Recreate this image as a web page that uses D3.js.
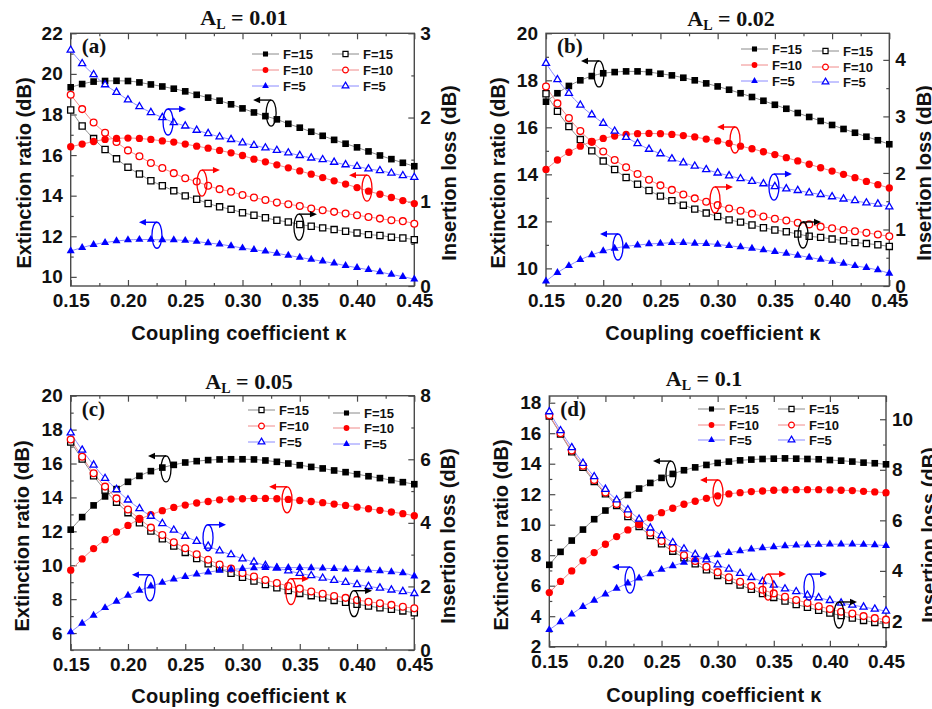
<!DOCTYPE html>
<html>
<head>
<meta charset="utf-8">
<script src="https://cdn.jsdelivr.net/npm/d3@7"></script>
<style>
  body { margin: 0; background: #fff; }
  svg { display: block; }
</style>
</head>
<body>
<div id="vis"></div>
<script>
// svg properties
var svgWidth = 932;
var svgHeight = 709;
var sansFont = '"Liberation Sans", Arial, sans-serif';
var serifFont = '"Liberation Serif", "Times New Roman", serif';

// shared x values (coupling coefficient)
var kappa = [0.15, 0.16, 0.17, 0.18, 0.19, 0.20, 0.21, 0.22, 0.23, 0.24, 0.25,
             0.26, 0.27, 0.28, 0.29, 0.30, 0.31, 0.32, 0.33, 0.34, 0.35, 0.36,
             0.37, 0.38, 0.39, 0.40, 0.41, 0.42, 0.43, 0.44, 0.45];
var xTicks = [0.15, 0.20, 0.25, 0.30, 0.35, 0.40, 0.45];
var xMinor = [0.175, 0.225, 0.275, 0.325, 0.375, 0.425];
var fLabels = ['F=15', 'F=10', 'F=5'];

// (a) A_L = 0.01 : extinction ratio (left axis) and insertion loss (right axis)
var erA15 = [19.34,19.50,19.62,19.65,19.66,19.65,19.58,19.48,19.38,19.27,19.14,18.97,18.83,18.68,18.50,18.30,18.10,17.92,17.76,17.54,17.35,17.15,16.95,16.75,16.56,16.38,16.18,15.98,15.80,15.62,15.45];
var erA10 = [16.41,16.54,16.67,16.77,16.82,16.84,16.82,16.77,16.70,16.64,16.54,16.44,16.34,16.23,16.11,15.98,15.80,15.67,15.52,15.37,15.22,15.06,14.89,14.73,14.57,14.40,14.22,14.07,13.91,13.76,13.61];
var erA5  = [11.28,11.44,11.59,11.69,11.77,11.82,11.84,11.84,11.82,11.82,11.79,11.74,11.67,11.61,11.52,11.42,11.34,11.26,11.16,11.06,10.96,10.86,10.77,10.67,10.55,10.45,10.35,10.24,10.12,10.01,9.89];
var ilA15 = [2.09,1.90,1.75,1.62,1.51,1.41,1.33,1.25,1.19,1.13,1.07,1.03,0.98,0.94,0.91,0.87,0.84,0.81,0.78,0.76,0.73,0.71,0.69,0.67,0.65,0.63,0.61,0.60,0.58,0.57,0.55];
var ilA10 = [2.27,2.10,1.94,1.82,1.71,1.61,1.54,1.46,1.40,1.34,1.28,1.24,1.19,1.15,1.12,1.08,1.05,1.02,0.99,0.97,0.95,0.92,0.90,0.88,0.86,0.84,0.82,0.80,0.78,0.77,0.74];
var ilA5  = [2.80,2.64,2.51,2.39,2.30,2.21,2.13,2.06,2.00,1.94,1.90,1.85,1.81,1.77,1.74,1.70,1.67,1.64,1.61,1.58,1.55,1.52,1.50,1.47,1.44,1.42,1.39,1.37,1.34,1.31,1.29];

// (b) A_L = 0.02
var erB15 = [17.09,17.45,17.76,18.00,18.18,18.30,18.35,18.38,18.38,18.35,18.28,18.21,18.11,18.00,17.87,17.74,17.60,17.45,17.29,17.13,16.96,16.79,16.61,16.44,16.27,16.10,15.93,15.77,15.60,15.45,15.28];
var erB10 = [14.21,14.61,14.94,15.20,15.39,15.53,15.63,15.70,15.73,15.74,15.73,15.70,15.65,15.59,15.50,15.42,15.32,15.20,15.09,14.96,14.84,14.71,14.57,14.43,14.28,14.14,14.00,13.86,13.70,13.56,13.42];
var erB5  = [9.46,9.82,10.11,10.37,10.57,10.74,10.85,10.94,10.99,11.04,11.06,11.09,11.09,11.06,11.05,11.02,10.96,10.91,10.85,10.78,10.71,10.64,10.55,10.47,10.38,10.30,10.21,10.11,10.03,9.93,9.79];
var ilB15 = [3.40,3.09,2.82,2.59,2.39,2.21,2.06,1.92,1.80,1.69,1.59,1.51,1.43,1.36,1.29,1.23,1.17,1.13,1.08,1.03,0.99,0.96,0.92,0.88,0.86,0.83,0.80,0.77,0.75,0.73,0.70];
var ilB10 = [3.53,3.23,2.97,2.74,2.55,2.38,2.23,2.10,1.98,1.88,1.78,1.70,1.62,1.55,1.49,1.43,1.37,1.33,1.28,1.23,1.19,1.16,1.12,1.09,1.05,1.02,0.99,0.97,0.94,0.91,0.88];
var ilB5  = [3.94,3.65,3.41,3.20,3.03,2.88,2.74,2.63,2.52,2.42,2.34,2.25,2.18,2.12,2.06,2.00,1.95,1.90,1.85,1.81,1.76,1.72,1.69,1.65,1.62,1.58,1.54,1.51,1.47,1.45,1.40];

// (c) A_L = 0.05
var erC15 = [12.10,12.84,13.53,14.06,14.49,14.92,15.27,15.55,15.76,15.92,16.06,16.14,16.20,16.24,16.25,16.25,16.24,16.18,16.10,16.00,15.90,15.80,15.71,15.59,15.49,15.37,15.25,15.14,15.02,14.90,14.78];
var erC10 = [9.71,10.37,10.98,11.51,11.96,12.35,12.71,12.98,13.22,13.41,13.55,13.67,13.76,13.86,13.90,13.92,13.94,13.94,13.92,13.88,13.82,13.76,13.69,13.61,13.53,13.43,13.33,13.24,13.14,13.04,12.92];
var erC5  = [6.06,6.57,7.04,7.49,7.86,8.22,8.51,8.76,8.98,9.18,9.33,9.47,9.59,9.69,9.75,9.80,9.84,9.86,9.86,9.86,9.86,9.84,9.82,9.80,9.76,9.75,9.71,9.67,9.61,9.55,9.35];
var ilC15 = [6.54,6.01,5.48,5.03,4.65,4.32,4.00,3.74,3.50,3.27,3.07,2.88,2.71,2.56,2.41,2.29,2.17,2.06,1.96,1.87,1.78,1.71,1.64,1.56,1.50,1.44,1.38,1.33,1.28,1.23,1.17];
var ilC10 = [6.62,6.08,5.56,5.14,4.77,4.42,4.13,3.85,3.62,3.39,3.20,3.01,2.84,2.69,2.56,2.42,2.31,2.20,2.11,2.01,1.93,1.84,1.77,1.70,1.64,1.57,1.52,1.47,1.42,1.36,1.31];
var ilC5  = [6.83,6.29,5.82,5.40,5.05,4.72,4.45,4.21,3.98,3.77,3.58,3.42,3.27,3.12,3.00,2.87,2.77,2.66,2.58,2.49,2.41,2.34,2.26,2.19,2.13,2.06,2.00,1.95,1.89,1.84,1.78];

// (d) A_L = 0.1
var erD15 = [7.37,8.22,8.96,9.68,10.36,10.93,11.45,11.95,12.37,12.74,13.07,13.33,13.57,13.76,13.92,14.05,14.14,14.22,14.27,14.31,14.33,14.35,14.33,14.31,14.29,14.24,14.20,14.14,14.07,14.03,13.96];
var erD10 = [5.55,6.28,6.97,7.63,8.17,8.72,9.22,9.66,10.05,10.45,10.79,11.08,11.34,11.54,11.73,11.89,12.02,12.10,12.17,12.21,12.26,12.28,12.30,12.30,12.30,12.28,12.26,12.24,12.19,12.15,12.10];
var erD5  = [3.11,3.63,4.14,4.62,5.03,5.45,5.82,6.17,6.49,6.78,7.06,7.30,7.52,7.69,7.87,8.02,8.17,8.28,8.39,8.48,8.55,8.61,8.65,8.68,8.70,8.72,8.72,8.72,8.70,8.68,8.63];
var ilD15 = [10.13,9.42,8.71,8.10,7.54,7.05,6.59,6.15,5.76,5.40,5.07,4.78,4.52,4.28,4.04,3.82,3.62,3.44,3.27,3.10,2.95,2.81,2.67,2.56,2.44,2.33,2.23,2.13,2.04,1.96,1.88];
var ilD10 = [10.16,9.45,8.76,8.16,7.60,7.10,6.65,6.25,5.85,5.51,5.18,4.90,4.62,4.39,4.16,3.95,3.75,3.57,3.40,3.25,3.11,2.98,2.85,2.73,2.60,2.49,2.38,2.31,2.21,2.13,2.07];
var ilD5  = [10.30,9.55,8.88,8.26,7.73,7.23,6.81,6.42,6.05,5.70,5.40,5.12,4.87,4.65,4.44,4.24,4.07,3.90,3.74,3.58,3.44,3.29,3.18,3.04,2.94,2.83,2.73,2.65,2.57,2.49,2.41];

// axis ticks for each panel
var yLTicksA = [10, 12, 14, 16, 18, 20, 22], yRTicksA = [0, 1, 2, 3];
var yLTicksB = [10, 12, 14, 16, 18, 20],     yRTicksB = [0, 1, 2, 3, 4];
var yLTicksC = [6, 8, 10, 12, 14, 16, 18, 20], yRTicksC = [0, 2, 4, 6, 8];
var yLTicksD = [2, 4, 6, 8, 10, 12, 14, 16, 18], yRTicksD = [2, 4, 6, 8, 10];

// ellipse + arrow annotations: [kappa, left-axis value, colour index, direction]
var annA = [[0.325, 18.07, 0, -1], [0.235, 17.63, 2, 1], [0.2646, 14.62, 1, 1],
            [0.4087, 14.37, 1, -1], [0.3493, 12.45, 0, 1], [0.2253, 12.05, 2, -1]];
var annB = [[0.1963, 18.27, 0, -1], [0.3152, 15.46, 1, -1], [0.2977, 12.91, 1, 1],
            [0.3492, 13.46, 2, 1], [0.3746, 11.42, 0, 1], [0.2129, 10.91, 2, -1]];
var annC = [[0.2332, 15.68, 0, -1], [0.3389, 13.86, 1, -1], [0.2699, 11.62, 2, 1],
            [0.2192, 8.67, 2, -1], [0.3423, 8.44, 1, 1], [0.3974, 7.73, 0, 1]];
var annD = [[0.2584, 13.32, 0, -1], [0.3003, 12.08, 1, -1], [0.2219, 6.37, 2, -1],
            [0.3449, 5.91, 1, 1], [0.3814, 5.91, 2, 1], [0.4081, 4.08, 0, 1]];

// styles per F value
var markColors = ['#000000', '#ff0000', '#0000ff'];
var lineColors = ['#8a8a8a', '#f08a8a', '#8a8aff'];
var symbols = [d3.symbolSquare, d3.symbolCircle, d3.symbolTriangle];
var symSizes = [44, 42, 28];
var legSizes = [26, 26, 20];

// page + panel layout
var svg = d3.select('#vis').append('svg')
  .attr('width', svgWidth)
  .attr('height', svgHeight);

svg.append('rect')
  .attr('width', svgWidth)
  .attr('height', svgHeight)
  .attr('fill', 'white');

var panels = [
  {tag: '(a)', al: '0.01', l: 70.7, r: 414.3, t: 33.3, b: 286, yL: [9.55, 22], yR: [0, 3],
   yLT: yLTicksA, yRT: yRTicksA, yLm: 1, yRm: 0.5,
   er: [erA15, erA10, erA5], il: [ilA15, ilA10, ilA5], ann: annA, openFirst: false,
   titleX: 244, titleY: 25, xLabX: 239, xLabY: 340, yLabX: 31, yRLabX: 456, labY: 173,
   legX: [252, 332], legY: [[54, 70, 86], [54, 70, 86]]},
  {tag: '(b)', al: '0.02', l: 546, r: 889.3, t: 33.3, b: 286, yL: [9.25, 20], yR: [0, 4.47],
   yLT: yLTicksB, yRT: yRTicksB, yLm: 1, yRm: 0.5,
   er: [erB15, erB10, erB5], il: [ilB15, ilB10, ilB5], ann: annB, openFirst: false,
   titleX: 731, titleY: 26, xLabX: 713, xLabY: 340, yLabX: 505, yRLabX: 931, labY: 173,
   legX: [741, 812], legY: [[49, 65, 81], [51, 67, 82]]},
  {tag: '(c)', al: '0.05', l: 70.7, r: 414.3, t: 395.7, b: 650, yL: [5.0, 20], yR: [0, 8],
   yLT: yLTicksC, yRT: yRTicksC, yLm: 1, yRm: 1,
   er: [erC15, erC10, erC5], il: [ilC15, ilC10, ilC5], ann: annC, openFirst: true,
   titleX: 249, titleY: 389, xLabX: 239, xLabY: 703, yLabX: 29, yRLabX: 455, labY: 536,
   legX: [248, 333], legY: [[410, 426, 442], [413, 428, 444]]},
  {tag: '(d)', al: '0.1', l: 549.3, r: 886, t: 396, b: 646.7, yL: [2, 18.44], yR: [1.0, 10.92],
   yLT: yLTicksD, yRT: yRTicksD, yLm: 1, yRm: 1,
   er: [erD15, erD10, erD5], il: [ilD15, ilD10, ilD5], ann: annD, openFirst: false,
   titleX: 704, titleY: 386, xLabX: 714, xLabY: 702, yLabX: 508, yRLabX: 936, labY: 535,
   legX: [698, 778], legY: [[409, 425, 440], [409, 425, 440]]}
];

// make tick arrays for minor ticks from the major ones
function minorTicks(major, step) {
  var out = [];
  for (var i = 0; i < major.length; i++) {
    for (var s = 1; s * step < (major[1] - major[0]) - 1e-9; s++) {
      out.push(major[i] + s * step);
    }
    if (i == 0) {
      for (var s2 = 1; s2 * step < (major[1] - major[0]) - 1e-9; s2++) out.push(major[0] - s2 * step);
    }
  }
  return out;
}

function styleAxis(g, showText) {
  g.attr('color', '#4a4a4a');
  g.select('.domain').remove();
  g.selectAll('line').attr('stroke-width', 1.2);
  g.selectAll('text')
    .attr('fill', '#111')
    .attr('font-family', sansFont)
    .attr('font-weight', 'bold')
    .attr('font-size', 19);
  if (!showText) g.selectAll('text').remove();
}

function drawPanel(p) {
  var g = svg.append('g');
  var x = d3.scaleLinear().domain([0.15, 0.45]).range([p.l, p.r]);
  var yL = d3.scaleLinear().domain(p.yL).range([p.b, p.t]);
  var yR = d3.scaleLinear().domain(p.yR).range([p.b, p.t]);
  var inL = function (v) { return v >= p.yL[0] - 1e-9 && v <= p.yL[1] + 1e-9; };
  var inR = function (v) { return v >= p.yR[0] - 1e-9 && v <= p.yR[1] + 1e-9; };

  // frame
  g.append('rect')
    .attr('x', p.l).attr('y', p.t)
    .attr('width', p.r - p.l).attr('height', p.b - p.t)
    .attr('fill', 'none')
    .attr('stroke', '#4a4a4a')
    .attr('stroke-width', 1.4);

  // axes, ticks pointing inward
  g.append('g').attr('transform', 'translate(0,' + p.b + ')')
    .call(d3.axisBottom(x).tickValues(xTicks).tickSize(-6).tickPadding(8).tickFormat(d3.format('.2f')))
    .call(styleAxis, true);
  g.append('g').attr('transform', 'translate(0,' + p.b + ')')
    .call(d3.axisBottom(x).tickValues(xMinor).tickSize(-3))
    .call(styleAxis, false);
  g.append('g').attr('transform', 'translate(0,' + p.t + ')')
    .call(d3.axisTop(x).tickValues(xTicks).tickSize(-6))
    .call(styleAxis, false);
  g.append('g').attr('transform', 'translate(0,' + p.t + ')')
    .call(d3.axisTop(x).tickValues(xMinor).tickSize(-3))
    .call(styleAxis, false);

  g.append('g').attr('transform', 'translate(' + p.l + ',0)')
    .call(d3.axisLeft(yL).tickValues(p.yLT).tickSize(-6).tickPadding(8).tickFormat(d3.format('d')))
    .call(styleAxis, true);
  g.append('g').attr('transform', 'translate(' + p.l + ',0)')
    .call(d3.axisLeft(yL).tickValues(minorTicks(p.yLT, p.yLm).filter(inL)).tickSize(-3))
    .call(styleAxis, false);
  g.append('g').attr('transform', 'translate(' + p.r + ',0)')
    .call(d3.axisRight(yR).tickValues(p.yRT).tickSize(-6).tickPadding(6).tickFormat(d3.format('d')))
    .call(styleAxis, true);
  g.append('g').attr('transform', 'translate(' + p.r + ',0)')
    .call(d3.axisRight(yR).tickValues(minorTicks(p.yRT, p.yRm).filter(inR)).tickSize(-3))
    .call(styleAxis, false);

  // series: filled = extinction ratio (left), open = insertion loss (right)
  var series = [];
  for (var i = 0; i < 3; i++) {
    series.push({vals: p.il[i], y: yR, open: true, c: i});
    series.push({vals: p.er[i], y: yL, open: false, c: i});
  }
  series.forEach(function (s) {
    var pts = kappa.map(function (k, j) { return {x: k, y: s.vals[j]}; });
    var makeLine = d3.line()
      .curve(d3.curveMonotoneX)
      .x(function (d) { return x(d.x); })
      .y(function (d) { return s.y(d.y); });
    g.append('path')
      .attr('d', makeLine(pts))
      .attr('fill', 'none')
      .attr('stroke', lineColors[s.c])
      .attr('stroke-width', 1);
  });
  series.forEach(function (s) {
    var pts = kappa.map(function (k, j) { return {x: k, y: s.vals[j]}; });
    g.selectAll(null)
      .data(pts)
      .enter().append('path')
      .attr('transform', function (d) { return 'translate(' + x(d.x) + ',' + s.y(d.y) + ')'; })
      .attr('d', d3.symbol().type(symbols[s.c]).size(s.open ? symSizes[s.c] - 6 : symSizes[s.c]))
      .attr('fill', s.open ? 'white' : markColors[s.c])
      .attr('stroke', s.open ? markColors[s.c] : 'none')
      .attr('stroke-width', 1.3);
  });

  // legend: two columns
  for (var col = 0; col < 2; col++) {
    var open = p.openFirst ? col == 0 : col == 1;
    for (var r = 0; r < 3; r++) {
      var lx = p.legX[col], ly = p.legY[col][r];
      g.append('line')
        .attr('x1', lx).attr('x2', lx + 27)
        .attr('y1', ly).attr('y2', ly)
        .attr('stroke', lineColors[r]).attr('stroke-width', 1);
      g.append('path')
        .attr('transform', 'translate(' + (lx + 13.5) + ',' + ly + ')')
        .attr('d', d3.symbol().type(symbols[r]).size(legSizes[r]))
        .attr('fill', open ? 'white' : markColors[r])
        .attr('stroke', open ? markColors[r] : 'none')
        .attr('stroke-width', 1.2);
      g.append('text')
        .attr('x', lx + 31).attr('y', ly + 4.5)
        .attr('font-family', sansFont)
        .attr('font-weight', 'bold')
        .attr('font-size', 13)
        .attr('fill', '#111')
        .text(fLabels[r]);
    }
  }

  // ellipse + arrow annotations
  p.ann.forEach(function (a) {
    var cx = x(a[0]), cy = yL(a[1]), col = markColors[a[2]], dir = a[3];
    g.append('ellipse')
      .attr('cx', cx).attr('cy', cy)
      .attr('rx', 5).attr('ry', 13)
      .attr('fill', 'none')
      .attr('stroke', col).attr('stroke-width', 1.3);
    var ay = cy - 13, tip = cx + dir * 18;
    g.append('line')
      .attr('x1', cx).attr('x2', tip - dir * 5)
      .attr('y1', ay).attr('y2', ay)
      .attr('stroke', col).attr('stroke-width', 1.4);
    g.append('path')
      .attr('d', 'M' + tip + ',' + ay + 'L' + (tip - dir * 7) + ',' + (ay - 3.2) +
                 'L' + (tip - dir * 7) + ',' + (ay + 3.2) + 'Z')
      .attr('fill', col);
  });

  // panel tag
  g.append('text')
    .attr('x', p.l + 11).attr('y', p.t + 20)
    .attr('font-family', serifFont)
    .attr('font-weight', 'bold')
    .attr('font-size', 21)
    .attr('fill', '#111')
    .text(p.tag);

  // title A_L = ...
  var title = g.append('text')
    .attr('x', p.titleX).attr('y', p.titleY)
    .attr('text-anchor', 'middle')
    .attr('font-family', serifFont)
    .attr('font-weight', 'bold')
    .attr('font-size', 22)
    .attr('fill', '#111');
  title.append('tspan').text('A');
  title.append('tspan').attr('font-size', 14).attr('dy', 4).text('L');
  title.append('tspan').attr('dy', -4).text(' = ' + p.al);

  // axis labels
  g.append('text')
    .attr('x', p.xLabX).attr('y', p.xLabY)
    .attr('text-anchor', 'middle')
    .attr('font-family', sansFont).attr('font-weight', 'bold')
    .attr('font-size', 20).attr('letter-spacing', 0.3)
    .attr('fill', '#111')
    .text('Coupling coefficient \u03ba');
  g.append('text')
    .attr('transform', 'translate(' + p.yLabX + ',' + p.labY + ') rotate(-90)')
    .attr('text-anchor', 'middle')
    .attr('font-family', sansFont).attr('font-weight', 'bold')
    .attr('font-size', 20)
    .attr('fill', '#111')
    .text('Extinction ratio (dB)');
  g.append('text')
    .attr('transform', 'translate(' + p.yRLabX + ',' + p.labY + ') rotate(-90)')
    .attr('text-anchor', 'middle')
    .attr('font-family', sansFont).attr('font-weight', 'bold')
    .attr('font-size', 20)
    .attr('fill', '#111')
    .text('Insertion loss (dB)');
}

panels.forEach(drawPanel);
</script>
</body>
</html>
